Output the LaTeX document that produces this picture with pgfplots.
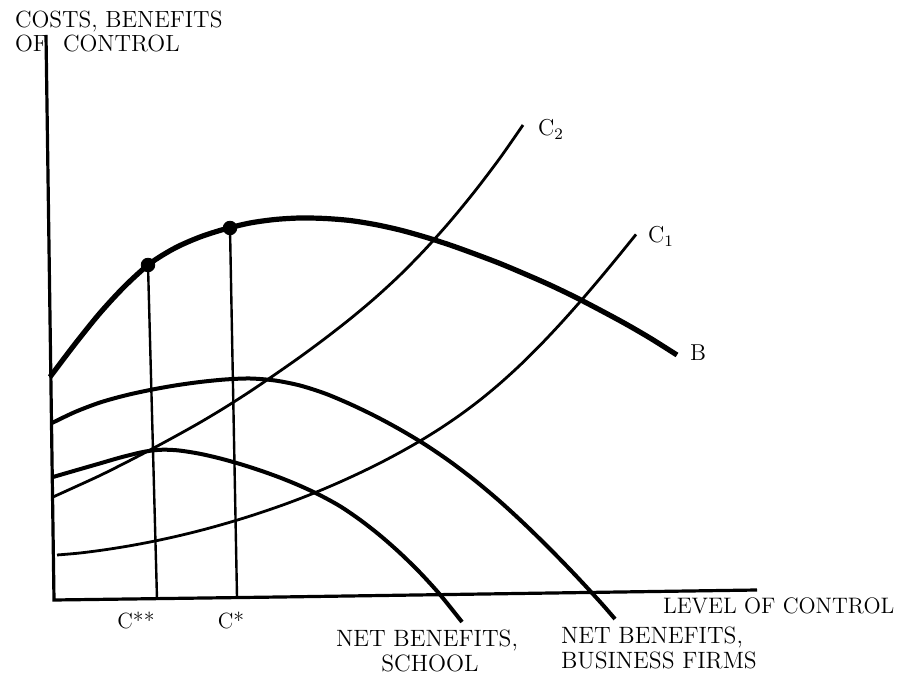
\documentclass[border=0pt]{standalone}
\usepackage{pgfplots}
\pgfplotsset{compat=1.18}
\begin{document}
\begin{tikzpicture}
\begin{axis}[
    width=454.5pt, height=337.5pt, scale only axis,
    xmin=0, xmax=909, ymin=0, ymax=675, y dir=reverse,
    hide axis, clip=false,
  ]
  % frame of the page (invisible)
  \addplot[draw=none] coordinates {(0,0) (909,675)};

  % axes
  \addplot[black, line width=1.6pt] coordinates {(46,35) (54,600) (280,597) (620,592) (757,590)};

  % C** and C* verticals
  \addplot[black, line width=1.2pt] coordinates {(148,265) (157,599)};
  \addplot[black, line width=1.2pt] coordinates {(230,228) (237,597)};

  % B (benefits)
  \addplot[black, line width=2.6pt, smooth] coordinates {
    (50,377) (75,344) (100,313) (125,286) (150,263.5) (175,248) (200,237)
    (225,229) (250,223) (275,219.5) (300,218) (325,218.5) (350,220.5)
    (375,224.5) (400,230) (425,237) (450,245) (475,254) (500,263.5)
    (525,274) (550,285) (575,297) (600,310) (625,323.5) (650,338) (677,355)};

  % net benefits, business firms
  \addplot[black, line width=2pt, smooth] coordinates {
    (52,423) (75,412) (100,402.5) (125,395.5) (150,390) (175,385.5) (200,382)
    (225,379.5) (250,378.5) (275,380.5) (300,385.5) (325,393.5) (350,404)
    (375,416) (400,429.5) (425,444.5) (450,461.5) (475,480.5) (500,501.5)
    (525,524.5) (550,549) (575,574.75) (600,601.75) (615,619)};

  % net benefits, school
  \addplot[black, line width=2pt, smooth] coordinates {
    (53,477) (75,470.6) (100,463.4) (120,457.6) (140,452.6) (153,450.4)
    (165,449.7) (180,450.6) (200,453.8) (220,458.4) (240,464) (260,470.4)
    (280,477.6) (300,485.8) (320,495.2) (340,506.2) (360,519.8) (380,535.4)
    (400,553) (420,572.6) (440,594.6) (462,622)};

  % C2
  \addplot[black, line width=1.4pt, smooth] coordinates {
    (53,497) (75,487) (100,475.5) (125,463) (150,450) (175,436.5) (200,422.5)
    (225,407.5) (250,391.5) (275,374.5) (300,357) (325,338.5) (350,319)
    (375,298) (400,275) (425,249.5) (450,221.5) (475,191) (500,158)
    (523,125)};

  % C1
  \addplot[black, line width=1.4pt, smooth] coordinates {
    (57,555) (80,553) (105,549.75) (130,545.75) (155,541) (180,535.5)
    (205,529.25) (230,522.25) (255,514.5) (280,506) (300,498.6) (320,490.6)
    (340,482) (360,472.8) (380,463) (400,452.4) (420,441) (440,428.6)
    (460,415) (480,400) (500,383.4) (520,365.2) (540,345.4) (560,324.2)
    (580,301.8) (600,278.4) (620,254.2) (636,234.4)};

  % dots on B
  \addplot[only marks, mark=*, mark size=3.4pt, black] coordinates {(148,265) (230,228)};

  % labels
  \node[anchor=base west, font=\fontsize{11.7}{14}\selectfont] at (axis cs:8,28) {COSTS, BENEFITS};
  \node[anchor=base west, font=\fontsize{11.7}{14}\selectfont] at (axis cs:8,52) {OF\ \ CONTROL};
  \node[anchor=base west, font=\fontsize{11.2}{12}\selectfont] at (axis cs:656,613) {LEVEL OF CONTROL};
  \node[anchor=base, font=\fontsize{11}{12}\selectfont] at (axis cs:136,628) {C**};
  \node[anchor=base, font=\fontsize{11}{12}\selectfont] at (axis cs:231,628) {C*};
  \node[anchor=base, font=\fontsize{11.8}{12}\selectfont] at (axis cs:427,646) {NET BENEFITS,};
  \node[anchor=base, font=\fontsize{11.8}{12}\selectfont] at (axis cs:430,671) {SCHOOL};
  \node[anchor=base west, font=\fontsize{11.8}{12}\selectfont] at (axis cs:554,643) {NET BENEFITS,};
  \node[anchor=base west, font=\fontsize{11.8}{12}\selectfont] at (axis cs:554,668) {BUSINESS FIRMS};
  \node[anchor=base west, font=\fontsize{11.5}{12}\selectfont] at (axis cs:531,136) {C$_2$};
  \node[anchor=base west, font=\fontsize{11.5}{12}\selectfont] at (axis cs:641,243) {C$_1$};
  \node[anchor=base west, font=\fontsize{11.5}{12}\selectfont] at (axis cs:683,361) {B};
\end{axis}
\end{tikzpicture}
\end{document}
